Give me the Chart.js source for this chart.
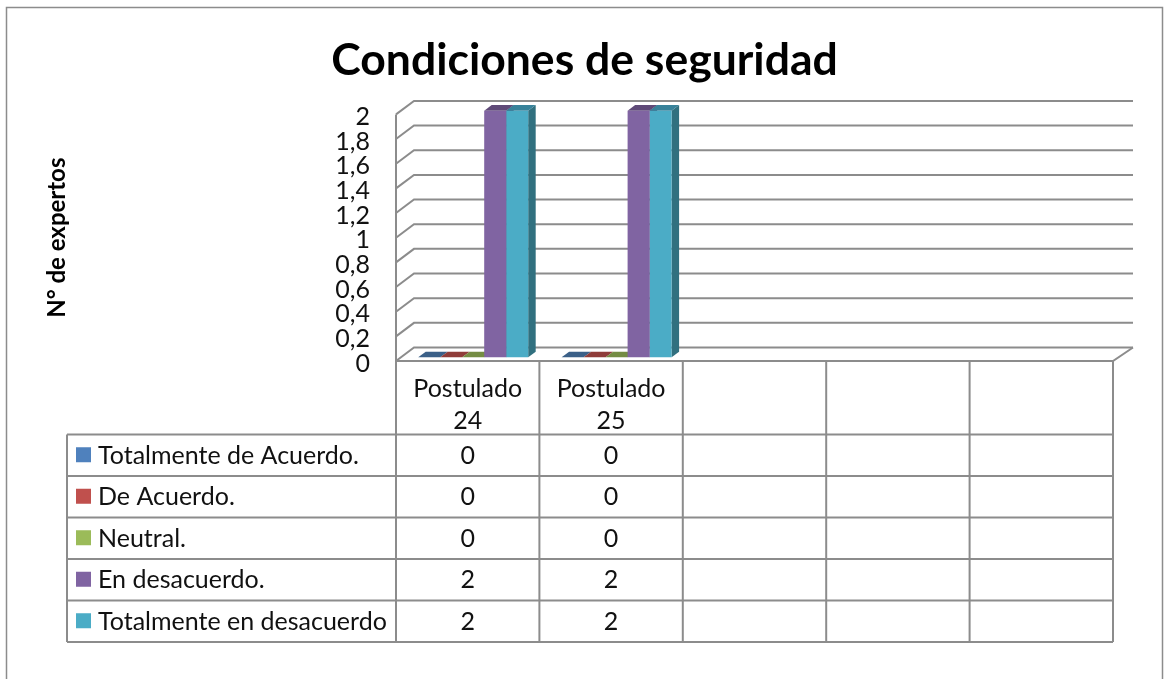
<!DOCTYPE html>
<html><head><meta charset="utf-8">
<style>html,body{margin:0;padding:0;background:#fff}canvas{display:block}</style>
<script src="https://cdn.jsdelivr.net/npm/chart.js@4"></script></head>
<body><canvas id="c" width="1164" height="679"></canvas>
<script>
const categories = [["Postulado","24"],["Postulado","25"],"","",""];
const seriesNames = ["Totalmente de Acuerdo.","De Acuerdo.","Neutral.","En desacuerdo.","Totalmente en desacuerdo"];
const totalmenteDeAcuerdo = [0,0,null,null,null];
const deAcuerdo = [0,0,null,null,null];
const neutral = [0,0,null,null,null];
const enDesacuerdo = [2,2,null,null,null];
const totalmenteEnDesacuerdo = [2,2,null,null,null];
const seriesValues = [totalmenteDeAcuerdo,deAcuerdo,neutral,enDesacuerdo,totalmenteEnDesacuerdo];
const frontColors = ["#4f81bd","#c0504d","#9bbb59","#8064a2","#4bacc6"];
const topColors = ["#3b6088","#8f3c39","#748c43","#5f4a78","#38829a"];
const sideColors = ["#2f4d6e","#73302e","#5d7036","#4c3b60","#31707f"];
const yTickLabels = ["0","0,2","0,4","0,6","0,8","1","1,2","1,4","1,6","1,8","2"];
const FONT = "Lato, 'Open Sans', sans-serif";
const GRAY = "#8c8c8c";

const wall3d = {
  id:"wall3d",
  afterLayout(chart){
    chart.titleBlock.left += 6.5; chart.titleBlock.right += 6.5;
    const s = chart.scales.y;
    if(!s._shifted){
      s._shifted = true;
      const orig = s.drawLabels;
      s.drawLabels = function(area){
        const c = this.ctx; c.save(); c.translate(0,2.5); orig.call(this,area); c.restore();
      };
    }
  },
  beforeDraw(chart){
    const c = chart.ctx;
    c.save();
    c.fillStyle="#fff"; c.fillRect(0,0,chart.width,chart.height);
    c.strokeStyle=GRAY; c.lineWidth=1.5;
    c.beginPath(); c.moveTo(6.5,chart.height); c.lineTo(6.5,7.5); c.lineTo(1162.5,7.5); c.lineTo(1162.5,chart.height); c.stroke();
    c.restore();
  },
  beforeDatasetsDraw(chart){
    const c = chart.ctx, y = chart.scales.y, a = chart.chartArea;
    const backL = 18, backR = 20, up = 13.5;
    c.save();
    c.strokeStyle=GRAY; c.lineWidth=2;
    y.ticks.forEach(t=>{
      const py = y.getPixelForValue(t.value);
      c.beginPath(); c.moveTo(a.left,py); c.lineTo(a.left+backL,py-up); c.lineTo(a.right+backR,py-up); c.stroke();
    });
    c.beginPath(); c.moveTo(a.left,a.top); c.lineTo(a.left,a.bottom); c.lineTo(a.right,a.bottom); c.lineTo(a.right+backR,a.bottom-up); c.stroke();
    c.restore();
    const dx = 7.5, dy = 5.6;
    c.save();
    c.translate(5.5,-3.7);
    chart.data.datasets.forEach((ds,i)=>{
      chart.getDatasetMeta(i).data.forEach((bar,j)=>{
        if (ds.data[j]===null) return;
        const p = bar.getProps(["x","y","base","width"],true);
        const l = p.x-p.width/2, r = p.x+p.width/2;
        if (p.base-p.y>0){
          c.fillStyle=sideColors[i];
          c.beginPath(); c.moveTo(r,p.y); c.lineTo(r+dx,p.y-dy); c.lineTo(r+dx,p.base-dy); c.lineTo(r,p.base); c.closePath(); c.fill();
        }
        c.fillStyle=topColors[i];
        c.beginPath(); c.moveTo(l,p.y); c.lineTo(l+dx,p.y-dy); c.lineTo(r+dx,p.y-dy); c.lineTo(r,p.y); c.closePath(); c.fill();
      });
    });
  },
  afterDatasetsDraw(chart){ chart.ctx.restore(); }
};

const dataTable = {
  id:"dataTable",
  afterDraw(chart){
    const c = chart.ctx, x = chart.scales.x, a = chart.chartArea;
    const rowLines = [434.5,476,517.5,559,600.5,642];
    const tableLeft = 67;
    const step = (a.right-a.left)/categories.length;
    c.save();
    c.strokeStyle=GRAY; c.lineWidth=2;
    rowLines.forEach(ry=>{ c.beginPath(); c.moveTo(tableLeft,ry); c.lineTo(a.right,ry); c.stroke(); });
    c.beginPath(); c.moveTo(tableLeft,rowLines[0]); c.lineTo(tableLeft,rowLines[5]); c.stroke();
    for(let i=0;i<=categories.length;i++){
      const vx = a.left+i*step;
      c.beginPath(); c.moveTo(vx,a.bottom); c.lineTo(vx,rowLines[5]); c.stroke();
    }
    c.font = "25px "+FONT; c.textBaseline="middle";
    seriesNames.forEach((name,i)=>{
      const cy = (rowLines[i]+rowLines[i+1])/2;
      c.fillStyle=frontColors[i]; c.fillRect(76,cy-8,15,15);
      c.fillStyle="#111"; c.textAlign="left"; c.fillText(name,98,cy+0.5);
      c.textAlign="center";
      seriesValues[i].forEach((v,j)=>{
        if(v===null) return;
        c.fillText(String(v),x.getPixelForTick(j),cy+0.5);
      });
    });
    c.restore();
  }
};

new Chart(document.getElementById("c"),{
  type:"bar",
  data:{labels:categories,datasets:seriesNames.map((n,i)=>({
    label:n,data:seriesValues[i],backgroundColor:frontColors[i],borderWidth:0,
    categoryPercentage:0.767,barPercentage:1,clip:false
  }))},
  options:{
    responsive:false,animation:false,
    layout:{autoPadding:false,padding:{left:43,right:51,top:34,bottom:0}},
    plugins:{
      legend:{display:false},tooltip:{enabled:false},
      title:{display:true,text:"Condiciones de seguridad",color:"#000",
        font:{family:FONT,size:44.5,weight:"bold",lineHeight:1.2},padding:{top:0,bottom:27}}
    },
    scales:{
      x:{
        afterFit(s){s.height=318;},
        grid:{display:false,drawTicks:false},border:{display:false},
        ticks:{color:"#111",font:{family:FONT,size:25,lineHeight:1.28},padding:12,autoSkip:false,maxRotation:0,minRotation:0}
      },
      y:{
        min:0,max:2,
        afterFit(s){s.width=353;},
        grid:{display:false,drawTicks:false},border:{display:false},
        title:{display:true,text:"N° de expertos",color:"#000",font:{family:FONT,size:24,weight:"bold"},padding:{top:0,bottom:0}},
        ticks:{stepSize:0.2,color:"#111",font:{family:FONT,size:25},padding:26,autoSkip:false,
          callback:(v,i)=>yTickLabels[i]}
      }
    }
  },
  plugins:[wall3d,dataTable]
});
</script></body></html>
